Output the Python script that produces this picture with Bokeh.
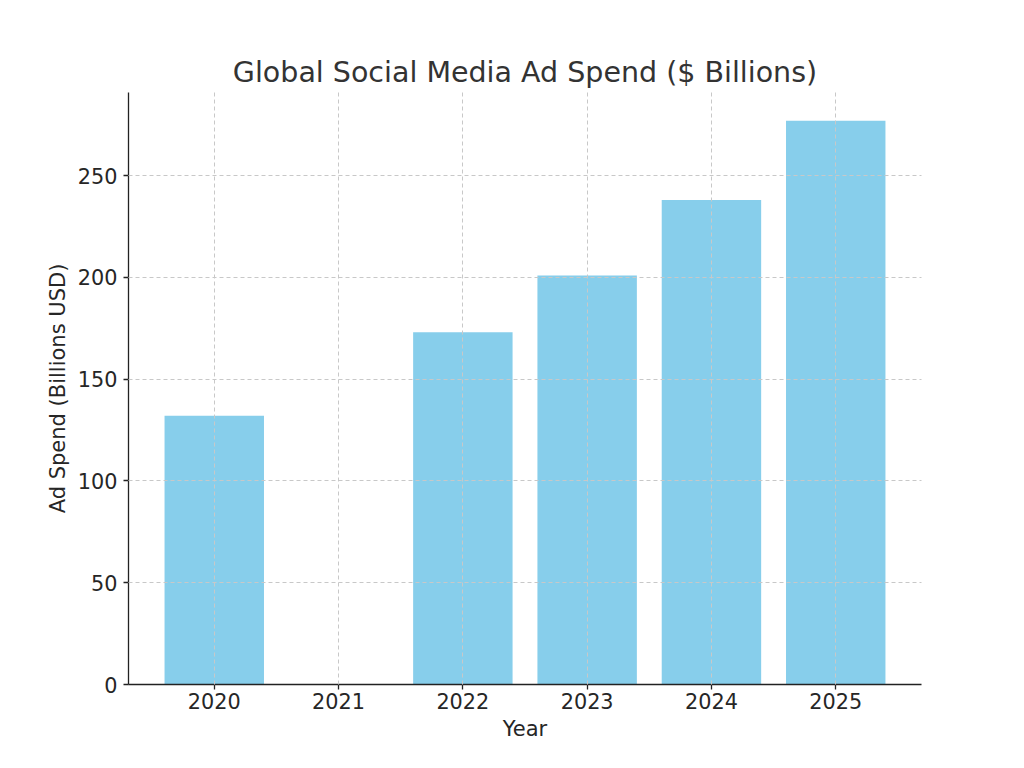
from bokeh.plotting import figure
from bokeh.models import FactorRange, Range1d, ColumnDataSource, SingleIntervalTicker
from bokeh.embed import file_html
from bokeh.resources import INLINE

years = ["2020", "2021", "2022", "2023", "2024", "2025"]
spend = [132, float("nan"), 173, 201, 238, 277]

source = ColumnDataSource(data=dict(year=years, spend=spend))

p = figure(
    width=1024, height=768,
    x_range=FactorRange(factors=years, range_padding=0.38 / 6, range_padding_units="percent"),
    y_range=Range1d(0, 290.85),
    output_backend="svg", toolbar_location=None,
    title="Global Social Media Ad Spend ($ Billions)",
    min_border_left=128, min_border_right=103, min_border_top=92, min_border_bottom=84,
)
p.vbar(x="year", top="spend", width=0.8, source=source, fill_color="#87CEEB", line_color=None)

p.title.text_font = "DejaVu Sans"
p.title.text_font_size = "28.5px"
p.title.text_font_style = "normal"
p.title.text_color = "#333333"
p.title.align = "center"
p.title.standoff = 8

p.outline_line_color = None
p.background_fill_color = "white"
p.border_fill_color = "white"

for ax in (p.xaxis[0], p.yaxis[0]):
    ax.axis_line_color = "#222222"
    ax.axis_line_width = 1.3
    ax.major_tick_line_color = "#222222"
    ax.major_tick_line_width = 1.3
    ax.major_tick_out = 5
    ax.major_tick_in = 0
    ax.minor_tick_line_color = None
    ax.major_label_text_font = "DejaVu Sans"
    ax.major_label_text_font_size = "20.8px"
    ax.major_label_text_color = "#262626"
    ax.axis_label_text_font = "DejaVu Sans"
    ax.axis_label_text_font_size = "21px"
    ax.axis_label_text_font_style = "normal"
    ax.axis_label_text_color = "#262626"

p.xaxis.axis_label = "Year"
p.yaxis.axis_label = "Ad Spend (Billions USD)"
p.xaxis.major_label_standoff = 3
p.yaxis.major_label_standoff = 6
p.xaxis.axis_label_standoff = 5
p.yaxis.axis_label_standoff = 5
p.yaxis.ticker = SingleIntervalTicker(interval=50)

p.grid.grid_line_color = "#c8c8c8"
p.grid.grid_line_dash = "4 3"
p.grid.grid_line_width = 1
p.grid.level = "annotation"

open("out.html", "w").write(file_html(p, INLINE))
